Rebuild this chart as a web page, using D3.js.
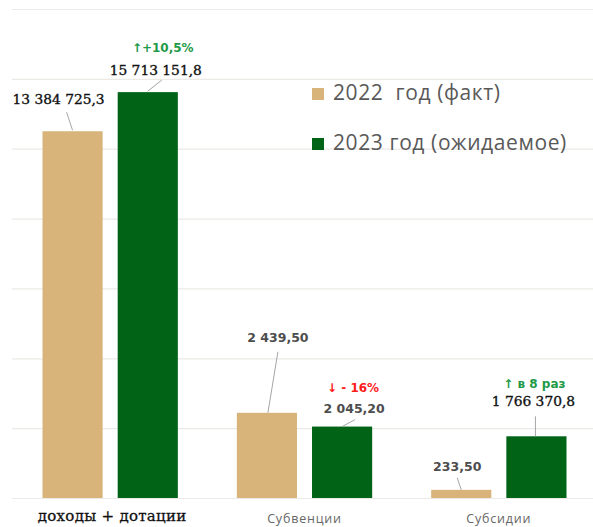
<!DOCTYPE html>
<html><head><meta charset="utf-8">
<script src="https://cdn.jsdelivr.net/npm/d3@7/dist/d3.min.js"></script>
<style>
html,body{margin:0;padding:0;background:#fff;}
svg{display:block;}
text{white-space:pre;}
</style></head>
<body>
<svg id="chart" width="593" height="527"></svg>
<script>
// ---- data ----
const categories = ["доходы + дотации", "Субвенции", "Субсидии"];
const seriesNames = ["2022  год (факт)", "2023 год (ожидаемое)"];
// plotted bar heights (millions, read against the gridlines)
const values2022 = [10500, 2439.5, 233.5];
const values2023 = [11620, 2045.2, 1766.4];
// label texts as printed on the chart
const labels2022 = ["13 384 725,3", "2 439,50", "233,50"];
const labels2023 = ["15 713 151,8", "2 045,20", "1 766 370,8"];
const changeLabels = ["↑+10,5%", "↓ - 16%", "↑ в 8 раз"];
const gridTicks = [0, 2000, 4000, 6000, 8000, 10000, 12000, 14000];

// ---- styles / layout ----
const colors = {"2022  год (факт)": "#D8B47B", "2023 год (ожидаемое)": "#006316"};
const svg = d3.select("#chart");
const W = 593, H = 527;
const x0 = d3.scaleBand().domain(categories).range([13, 596]).padding(0);
const x1 = d3.scaleBand().domain(seriesNames).range([29.5, x0.bandwidth() - 29.5]).paddingInner(0.2);
const y = d3.scaleLinear().domain([0, 14000]).range([498, 9]);

// gridlines
svg.append("g").selectAll("line").data(gridTicks).join("line")
  .attr("x1", 12).attr("x2", W)
  .attr("y1", d => y(d) + 0.5).attr("y2", d => y(d) + 0.5)
  .attr("stroke", "#ECEAE6").attr("stroke-width", 1.2);

const rows = categories.map((c, i) => ({
  cat: c,
  bars: [
    {s: seriesNames[0], v: values2022[i], label: labels2022[i]},
    {s: seriesNames[1], v: values2023[i], label: labels2023[i]}
  ],
  change: changeLabels[i]
}));

const g = svg.append("g");
rows.forEach(r => {
  r.bars.forEach(b => {
    g.append("rect")
      .attr("x", x0(r.cat) + x1(b.s))
      .attr("y", y(b.v))
      .attr("width", x1.bandwidth())
      .attr("height", y(0) - y(b.v))
      .attr("fill", colors[b.s]);
  });
});

// label placement (offsets from bar centre / bar top)
const serif = "'DejaVu Serif', serif";
const sans = "'DejaVu Sans', sans-serif";
const labelLayout = [
  [ // доходы + дотации
    {dx: -14, dy: -27, l: [-6, -19, 0, -1], font: serif, size: 13.8, weight: 400, fill: "#111", sw: 0.35},
    {dx: 8, dy: -17, l: [14, -12, 0, -1], font: serif, size: 13.8, weight: 400, fill: "#111", sw: 0.35}
  ],
  [ // Субвенции
    {dx: 11, dy: -71, l: [11, -61, 1, 0], font: sans, size: 12.5, weight: 700, fill: "#4d4d4d", sw: 0},
    {dx: 12, dy: -14, l: [13, -7, 0, 0], font: sans, size: 12.5, weight: 700, fill: "#4d4d4d", sw: 0}
  ],
  [ // Субсидии
    {dx: -4, dy: -19, l: [-4, -12, 0, 0], font: sans, size: 12.5, weight: 700, fill: "#4d4d4d", sw: 0},
    {dx: -3, dy: -30, l: [-1, -20, -1, 0], font: serif, size: 13.8, weight: 400, fill: "#111", sw: 0.35}
  ]
];
const changeLayout = [
  {bar: 1, dx: 15, dy: -40, fill: "#1E9A48"},
  {bar: 1, dx: 11, dy: -35, fill: "#FF1A1A"},
  {bar: 1, dx: -2, dy: -48, fill: "#1E9A48"}
];

rows.forEach((r, i) => {
  r.bars.forEach((b, j) => {
    const cx = x0(r.cat) + x1(b.s) + x1.bandwidth() / 2;
    const top = y(b.v);
    const L = labelLayout[i][j];
    g.append("line")
      .attr("x1", cx + L.l[0]).attr("y1", top + L.l[1])
      .attr("x2", cx + L.l[2]).attr("y2", top + L.l[3])
      .attr("stroke", "#A6A6A6").attr("stroke-width", 1);
    g.append("text")
      .attr("x", cx + L.dx).attr("y", top + L.dy)
      .attr("text-anchor", "middle")
      .attr("font-family", L.font).attr("font-size", L.size)
      .attr("font-weight", L.weight).attr("fill", L.fill)
      .attr("stroke", L.fill).attr("stroke-width", L.sw)
      .text(b.label);
  });
  const C = changeLayout[i];
  const b = r.bars[C.bar];
  const cx = x0(r.cat) + x1(b.s) + x1.bandwidth() / 2;
  g.append("text")
    .attr("x", cx + C.dx).attr("y", y(b.v) + C.dy)
    .attr("text-anchor", "middle")
    .attr("font-family", sans).attr("font-size", 12)
    .attr("font-weight", 700).attr("fill", C.fill)
    .text(r.change);
});

// category labels
const catStyle = [
  {font: serif, size: 15, fill: "#111", dy: 521, dx: 2, ls: 0.3, sw: 0.3},
  {font: "'Open Sans', sans-serif", size: 12.5, fill: "#666", dy: 523, dx: 0, ls: 0.8, sw: 0},
  {font: "'Open Sans', sans-serif", size: 12.5, fill: "#666", dy: 523, dx: 0, ls: 0.8, sw: 0}
];
svg.append("g").selectAll("text").data(categories).join("text")
  .attr("x", (d, i) => x0(d) + x0.bandwidth() / 2 + catStyle[i].dx)
  .attr("y", (d, i) => catStyle[i].dy)
  .attr("text-anchor", "middle")
  .attr("font-family", (d, i) => catStyle[i].font)
  .attr("font-size", (d, i) => catStyle[i].size)
  .attr("letter-spacing", (d, i) => catStyle[i].ls)
  .attr("fill", (d, i) => catStyle[i].fill)
  .attr("stroke", (d, i) => catStyle[i].fill)
  .attr("stroke-width", (d, i) => catStyle[i].sw)
  .text(d => d);

// legend
const leg = svg.append("g").attr("transform", "translate(312,0)");
seriesNames.forEach((s, i) => {
  const yy = 100 + i * 50;
  leg.append("rect").attr("x", 0).attr("y", yy - 12).attr("width", 12).attr("height", 12)
    .attr("fill", colors[s]);
  leg.append("text").attr("x", 21).attr("y", yy)
    .attr("font-family", "'Open Sans', sans-serif").attr("font-size", 21)
    .attr("letter-spacing", 0.6)
    .attr("fill", "#595959").text(s);
});
</script>
</body></html>
